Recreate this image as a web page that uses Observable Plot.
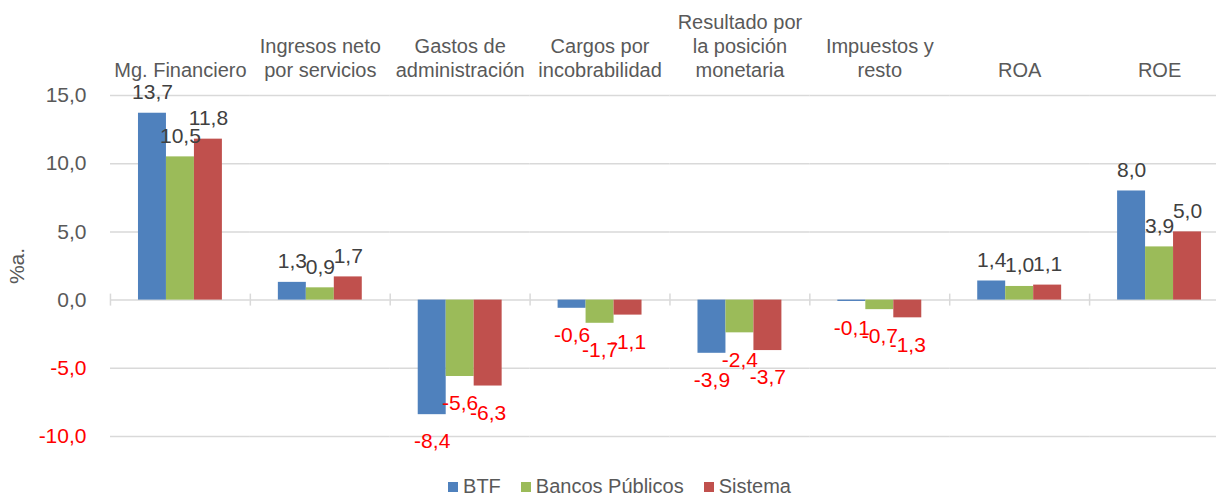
<!DOCTYPE html>
<html><head><meta charset="utf-8">
<script src="https://cdn.jsdelivr.net/npm/d3@7"></script>
<script src="https://cdn.jsdelivr.net/npm/@observablehq/plot@0.6"></script>
<style>
body{margin:0;background:#fff;font-family:"Liberation Sans",Arial,sans-serif;overflow:hidden}
#legend{display:flex;justify-content:center;gap:20px;padding-left:23px;font-size:20px;color:#595959;height:21px;line-height:21px;margin-top:2px}
.item{display:flex;align-items:center}
.sw{width:10px;height:10px;margin-right:5px;display:inline-block}
</style></head>
<body><div id="chart"></div><div id="legend"></div>
<script>
const categories = ["Mg. Financiero", "Ingresos neto\npor servicios", "Gastos de\nadministración", "Cargos por\nincobrabilidad", "Resultado por\nla posición\nmonetaria", "Impuestos y\nresto", "ROA", "ROE"];
const series = ["BTF", "Bancos Públicos", "Sistema"];
const btf = [13.7, 1.3, -8.4, -0.6, -3.9, -0.1, 1.4, 8.0];
const publicos = [10.5, 0.9, -5.6, -1.7, -2.4, -0.7, 1.0, 3.9];
const sistema = [11.8, 1.7, -6.3, -1.1, -3.7, -1.3, 1.1, 5.0];
const colors = ["#4F81BD", "#9BBB59", "#C0504D"];
const yTicks = [-10, -5, 0, 5, 10, 15];

const seriesValues = [btf, publicos, sistema];
const rows = categories.flatMap((c, i) => seriesValues.map((arr, j) => ({cat: c, series: series[j], value: arr[i]})));
const fmt = v => v.toFixed(1).replace(".", ",");
const font = "'Liberation Sans', Arial, sans-serif";

const chart = Plot.plot({
  width: 1216, height: 474,
  marginLeft: 110, marginRight: -13, marginTop: 95, marginBottom: 38,
  style: {fontFamily: font, background: "white"},
  fx: {domain: categories, padding: 0, round: false, label: null},
  x: {domain: series, paddingInner: 0, paddingOuter: 1, round: false, axis: null},
  y: {domain: [-10, 15]},
  color: {domain: series, range: colors},
  marks: [
    Plot.gridY(yTicks, {stroke: "#d9d9d9", strokeOpacity: 1, strokeWidth: 1.5}),
    Plot.ruleX([series[0]], {x: d => d, y1: 0, y2: 0, insetTop: -6, insetBottom: -6, dx: -42, stroke: "#d9d9d9", strokeWidth: 1.5}),
    Plot.barY(rows, {fx: "cat", x: "series", y: "value", fill: "series"}),
    Plot.text(rows.filter(d => d.value >= 0), {fx: "cat", x: "series", y: "value", text: d => fmt(d.value), dy: -21, fill: "#404040", fontSize: 21}),
    Plot.text(rows.filter(d => d.value < 0), {fx: "cat", x: "series", y: "value", text: d => fmt(d.value), dy: 27, fill: "#ff0000", fontSize: 21}),
    Plot.axisY(yTicks.filter(t => t >= 0), {tickSize: 0, tickPadding: 24, tickFormat: fmt, fill: "#595959", fontSize: 21, label: "%a.", labelAnchor: "center", labelArrow: "none", labelOffset: 101}),
    Plot.axisY(yTicks.filter(t => t < 0), {tickSize: 0, tickPadding: 24, tickFormat: fmt, fill: "#ff0000", fontSize: 21, label: null}),
    Plot.axisFx({anchor: "top", tickSize: 0, tickPadding: 19, fontSize: 20, lineHeight: 1.18, fill: "#595959", label: null})
  ]
});
document.getElementById("chart").appendChild(chart);

const legend = document.getElementById("legend");
series.forEach((s, i) => {
  const item = document.createElement("div");
  item.className = "item";
  const sw = document.createElement("span");
  sw.className = "sw";
  sw.style.background = colors[i];
  item.appendChild(sw);
  item.appendChild(document.createTextNode(s));
  legend.appendChild(item);
});
</script>
</body></html>
